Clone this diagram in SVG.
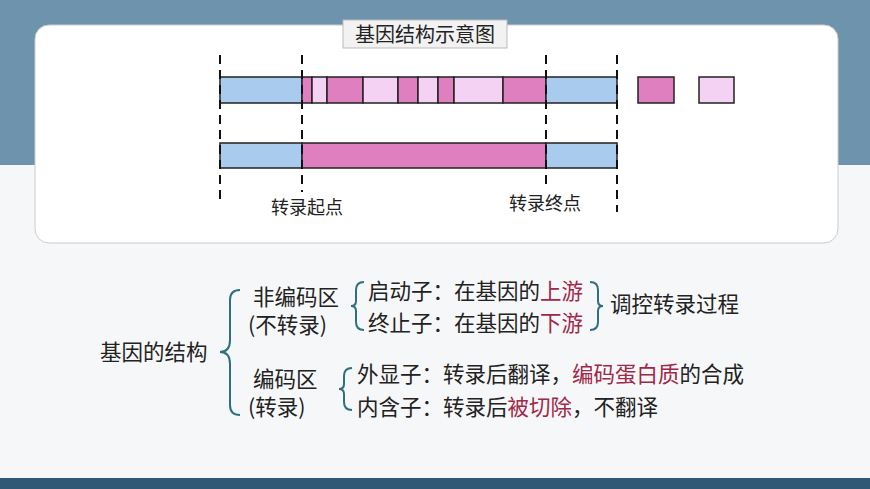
<svg xmlns="http://www.w3.org/2000/svg" width="870" height="489" viewBox="0 0 870 489">
<style>
.t{font-family:"Noto Sans CJK SC","Noto Sans",sans-serif;font-size:21.5px;fill:#222}
.s{font-size:18px}
.r{fill:#a02848}
.b{fill:#a9cbee;stroke:#222;stroke-width:1.5}
.m{fill:#e07fc0;stroke:#222;stroke-width:1.5}
.l{fill:#f3d2f3;stroke:#222;stroke-width:1.5}
.d{stroke:#111;stroke-width:2;stroke-dasharray:9,6}
.br{fill:none;stroke:#2e6f80;stroke-width:2}
</style>
<rect width="870" height="489" fill="#f6f7f8"/>
<rect width="870" height="165" fill="#6e93ac"/>
<rect x="0" y="478" width="870" height="11" fill="#2f5877"/>
<rect x="35" y="25" width="803" height="218" rx="14" fill="#fff" stroke="#ccc"/>
<g id="title"><rect x="343" y="20" width="164" height="28" fill="#f2f2f2" stroke="#bbb"/><text class="t" x="425" y="42" text-anchor="middle" style="font-size:20px">基因结构示意图</text></g>
<g id="dna1">
<rect class="b" x="220" y="77" width="82" height="26"/>
<rect class="m" x="302" y="77" width="10" height="26"/>
<rect class="l" x="312" y="77" width="15" height="26"/>
<rect class="m" x="327" y="77" width="36" height="26"/>
<rect class="l" x="363" y="77" width="35" height="26"/>
<rect class="m" x="398" y="77" width="20" height="26"/>
<rect class="l" x="418" y="77" width="20" height="26"/>
<rect class="m" x="438" y="77" width="16" height="26"/>
<rect class="l" x="454" y="77" width="49" height="26"/>
<rect class="m" x="503" y="77" width="43" height="26"/>
<rect class="b" x="546" y="77" width="71" height="26"/>
<rect class="m" x="638" y="77" width="36" height="26"/>
<rect class="l" x="699" y="77" width="35" height="26"/>
</g>
<g id="dna2">
<rect class="b" x="220" y="143" width="82" height="25"/>
<rect class="m" x="302" y="143" width="244" height="25"/>
<rect class="b" x="546" y="143" width="71" height="25"/>
</g>
<g id="connectors">
<line class="d" x1="220" y1="55" x2="220" y2="205"/>
<line class="d" x1="302" y1="55" x2="302" y2="192"/>
<line class="d" x1="546" y1="55" x2="546" y2="190"/>
<line class="d" x1="617" y1="55" x2="617" y2="212"/>
<path class="br" d="M240,290 Q230,290 230,300 V340 Q230,352 220,352 Q230,352 230,364 V405 Q230,415 240,415"/>
<path class="br" d="M364,282 Q356,282 356,290 V301 Q356,306 351,306 Q356,306 356,311 V322 Q356,330 364,330"/>
<path class="br" d="M590,282 Q598,282 598,290 V301 Q598,306 603,306 Q598,306 598,311 V322 Q598,330 590,330"/>
<path class="br" d="M352,368 Q344,368 344,376 V384 Q344,389 339,389 Q344,389 344,394 V402 Q344,410 352,410"/>
</g>
<g id="labels">
<text class="t s" x="271" y="214">转录起点</text>
<text class="t s" x="509" y="210">转录终点</text>
<text class="t" x="100" y="360">基因的结构</text>
<text class="t" x="253" y="305">非编码区</text>
<text class="t" x="248" y="333">(不转录)</text>
<text class="t" x="368" y="299">启动子：在基因的<tspan class="r">上游</tspan></text>
<text class="t" x="368" y="331">终止子：在基因的<tspan class="r">下游</tspan></text>
<text class="t" x="610" y="312">调控转录过程</text>
<text class="t" x="253" y="387">编码区</text>
<text class="t" x="248" y="415">(转录)</text>
<text class="t" x="357" y="382">外显子：转录后翻译，<tspan class="r">编码蛋白质</tspan>的合成</text>
<text class="t" x="357" y="415">内含子：转录后<tspan class="r">被切除</tspan>，不翻译</text>
</g>
</svg>
